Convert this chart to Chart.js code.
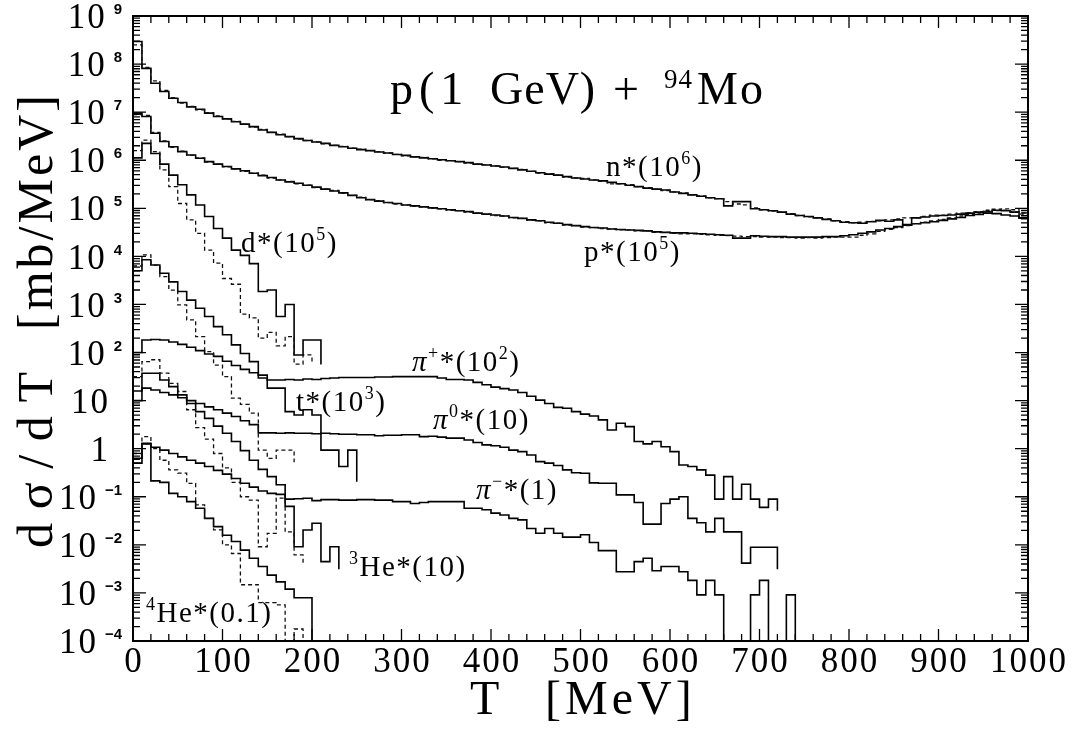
<!DOCTYPE html>
<html>
<head>
<meta charset="utf-8">
<title>p(1 GeV) + 94Mo</title>
<script src="https://cdn.jsdelivr.net/npm/chart.js@4.4.1/dist/chart.umd.min.js"></script>
<style>
  html, body { margin: 0; padding: 0; background: #fff; }
  #wrap { width: 1073px; height: 732px; }
</style>
</head>
<body>
<div id="wrap"><canvas id="c" width="1073" height="732"></canvas></div>
<script>
// Histogram bin width in MeV; every spectrum starts at T = 0.
const BIN = 10;

// log10 of dσ/dT [mb/MeV] (already multiplied by the factor in each label),
// one value per bin; the last entry is the level the closing edge drops to.
const nSolid = [
  8.47, 7.91, 7.60, 7.43, 7.29, 7.20, 7.11, 7.06, 6.98, 6.91,
  6.86, 6.80, 6.75, 6.70, 6.63, 6.58, 6.53, 6.49, 6.45, 6.41,
  6.38, 6.35, 6.31, 6.28, 6.25, 6.22, 6.20, 6.17, 6.15, 6.12,
  6.10, 6.07, 6.05, 6.03, 6.01, 5.99, 5.97, 5.95, 5.92, 5.90,
  5.88, 5.86, 5.83, 5.80, 5.77, 5.74, 5.71, 5.69, 5.66, 5.63,
  5.61, 5.59, 5.57, 5.54, 5.51, 5.48, 5.45, 5.42, 5.40, 5.38,
  5.34, 5.31, 5.28, 5.25, 5.22, 5.20, 5.05, 5.14, 5.14, 4.99,
  4.97, 4.95, 4.92, 4.88, 4.85, 4.83, 4.80, 4.77, 4.74, 4.71,
  4.70, 4.69, 4.72, 4.75, 4.73, 4.76, 4.65, 4.80, 4.82, 4.84,
  4.85, 4.86, 4.88, 4.90, 4.92, 4.93, 4.96, 4.95, 4.92, 4.80,
  4.80
];
const nDashed = [
  8.40, 7.93, 7.65, 7.45, 7.30, 7.19, 7.12, 7.05, 6.99, 6.92,
  6.86, 6.81, 6.75, 6.69, 6.64, 6.58, 6.54, 6.49, 6.44, 6.41,
  6.38, 6.34, 6.31, 6.29, 6.25, 6.23, 6.20, 6.18, 6.15, 6.12,
  6.09, 6.07, 6.06, 6.03, 6.00, 5.99, 5.97, 5.94, 5.92, 5.91,
  5.88, 5.85, 5.83, 5.81, 5.77, 5.73, 5.72, 5.69, 5.65, 5.63,
  5.62, 5.59, 5.56, 5.51, 5.51, 5.49, 5.45, 5.43, 5.40, 5.37,
  5.34, 5.32, 5.28, 5.26, 5.22, 5.20, 5.14, 5.09, 5.07, 5.01,
  4.97, 4.94, 4.92, 4.89, 4.85, 4.82, 4.80, 4.78, 4.74, 4.72,
  4.70, 4.71, 4.73, 4.74, 4.76, 4.78, 4.80, 4.80, 4.83, 4.86,
  4.86, 4.88, 4.90, 4.91, 4.93, 4.96, 4.98, 4.99, 4.97, 4.90,
  4.90
];
const pSolid = [
  6.98, 6.91, 6.56, 6.39, 6.28, 6.18, 6.11, 6.04, 5.97, 5.92,
  5.87, 5.82, 5.78, 5.73, 5.68, 5.64, 5.59, 5.55, 5.52, 5.48,
  5.44, 5.40, 5.36, 5.32, 5.27, 5.22, 5.18, 5.15, 5.12, 5.10,
  5.07, 5.05, 5.03, 5.01, 4.99, 4.97, 4.95, 4.93, 4.90, 4.88,
  4.86, 4.84, 4.81, 4.79, 4.76, 4.74, 4.71, 4.69, 4.66, 4.64,
  4.62, 4.60, 4.59, 4.57, 4.56, 4.55, 4.54, 4.53, 4.51, 4.50,
  4.49, 4.49, 4.48, 4.47, 4.46, 4.45, 4.44, 4.38, 4.38, 4.43,
  4.42, 4.41, 4.41, 4.40, 4.40, 4.40, 4.40, 4.41, 4.41, 4.43,
  4.45, 4.48, 4.51, 4.55, 4.58, 4.62, 4.66, 4.68, 4.70, 4.72,
  4.75, 4.78, 4.81, 4.85, 4.87, 4.90, 4.89, 4.86, 4.84, 4.80,
  4.80
];
const pDashed = [
  6.95, 6.93, 6.58, 6.40, 6.27, 6.19, 6.10, 6.05, 5.96, 5.92,
  5.86, 5.82, 5.77, 5.73, 5.69, 5.63, 5.59, 5.56, 5.51, 5.48,
  5.43, 5.40, 5.37, 5.31, 5.27, 5.23, 5.18, 5.16, 5.12, 5.09,
  5.07, 5.04, 5.03, 5.00, 4.99, 4.96, 4.95, 4.92, 4.90, 4.88,
  4.85, 4.84, 4.80, 4.79, 4.75, 4.74, 4.70, 4.69, 4.65, 4.64,
  4.61, 4.60, 4.58, 4.57, 4.55, 4.55, 4.53, 4.53, 4.50, 4.50,
  4.48, 4.47, 4.47, 4.46, 4.45, 4.44, 4.43, 4.42, 4.41, 4.41,
  4.40, 4.40, 4.39, 4.39, 4.38, 4.39, 4.38, 4.39, 4.40, 4.40,
  4.40, 4.44, 4.47, 4.52, 4.56, 4.60, 4.64, 4.68, 4.71, 4.74,
  4.77, 4.80, 4.84, 4.87, 4.90, 4.93, 4.95, 4.96, 4.93, 4.88,
  4.88
];
const dSolid = [
  6.05, 6.35, 6.14, 5.92, 5.69, 5.49, 5.28, 5.07, 4.83, 4.58,
  4.38, 4.13, 4.02, 3.85, 3.27, 3.30, 2.75, 3.00, 1.95, 2.26,
  2.26, 1.75
];
const dDashed = [
  6.20, 6.42, 6.18, 5.80, 5.45, 5.10, 4.76, 4.48, 4.13, 3.86,
  3.54, 3.42, 2.80, 2.72, 2.30, 2.42, 2.14, 2.33, 1.76, 1.95,
  1.77
];
const tSolid = [
  3.70, 3.93, 3.82, 3.65, 3.47, 3.27, 3.09, 2.92, 2.75, 2.54,
  2.37, 2.16, 1.98, 1.81, 1.53, 1.26, 1.26, 0.77, 0.70, 0.81,
  0.70, -0.03, -0.03, -0.37, -0.03, -0.69
];
const tDashed = [
  3.80, 4.03, 3.82, 3.58, 3.30, 2.99, 2.68, 2.33, 2.02, 1.74,
  1.50, 1.05, 0.92, 0.74, -0.03, -0.20, -0.03, -0.03, -0.28
];
const piPlus = [
  2.00, 2.26, 2.27, 2.26, 2.22, 2.17, 2.11, 2.04, 1.97, 1.92,
  1.82, 1.73, 1.65, 1.58, 1.47, 1.43, 1.43, 1.44, 1.43, 1.45,
  1.44, 1.46, 1.47, 1.48, 1.48, 1.48, 1.48, 1.49, 1.49, 1.50,
  1.50, 1.50, 1.50, 1.50, 1.47, 1.44, 1.44, 1.43, 1.38, 1.33,
  1.28, 1.25, 1.22, 1.17, 1.09, 1.01, 0.94, 0.86, 0.84, 0.77,
  0.72, 0.68, 0.60, 0.39, 0.53, 0.46, 0.15, 0.10, 0.15, 0.04,
  -0.06, -0.34, -0.37, -0.44, -0.55, -1.05, -0.58, -1.05, -0.74, -1.05,
  -1.22, -1.05, -1.29
];
const piZero = [
  1.00, 1.26, 1.22, 1.17, 1.12, 1.06, 1.00, 0.94, 0.87, 0.81,
  0.74, 0.67, 0.58, 0.50, 0.33, 0.33, 0.32, 0.33, 0.32, 0.32,
  0.31, 0.32, 0.31, 0.30, 0.30, 0.29, 0.29, 0.27, 0.28, 0.28,
  0.29, 0.29, 0.25, 0.26, 0.24, 0.22, 0.22, 0.18, 0.13, 0.08,
  0.06, 0.03, -0.03, -0.06, -0.13, -0.27, -0.30, -0.35, -0.44, -0.50,
  -0.51, -0.71, -0.72, -0.72, -0.96, -0.96, -1.12, -1.57, -1.57, -1.14,
  -1.05, -1.00, -1.45, -1.54, -1.73, -1.45, -1.73, -1.73, -2.38, -2.05,
  -2.05, -2.05, -2.51
];
// -9 marks an empty bin (far below the axis floor)
const piMinus = [
  -0.20, 0.11, 0.03, -0.03, -0.10, -0.17, -0.24, -0.30, -0.37, -0.45,
  -0.53, -0.62, -0.72, -0.80, -0.88, -0.93, -0.95, -1.05, -1.04, -1.03,
  -1.08, -1.06, -1.06, -1.07, -1.07, -1.06, -1.06, -1.07, -1.07, -1.10,
  -1.10, -1.14, -1.12, -1.10, -1.10, -1.10, -1.10, -1.24, -1.24, -1.27,
  -1.34, -1.38, -1.45, -1.48, -1.66, -1.76, -1.66, -1.76, -1.84, -1.84,
  -1.79, -1.95, -2.12, -2.12, -2.56, -2.56, -2.35, -2.28, -2.54, -2.45,
  -2.45, -2.56, -2.74, -3.04, -2.74, -3.04, -9, -9, -9, -3.04,
  -2.74, -9, -9, -3.04, -9
];
const he3Solid = [
  1.20, 1.57, 1.57, 1.43, 1.29, 1.12, 0.94, 0.77, 0.63, 0.47,
  0.32, 0.15, -0.04, -0.24, -0.43, -0.58, -0.75, -1.20, -2.04, -1.69,
  -1.55, -2.35, -2.04, -2.51
];
const he3Dashed = [
  1.50, 1.81, 1.85, 1.57, 1.36, 1.19, 0.81, 0.44, 0.20, -0.10,
  -0.40, -0.70, -1.00, -1.07, -2.04, -1.76, -1.03, -1.73, -2.21, -2.40
];
const he4Solid = [
  -0.30, 0.10, -0.67, -0.70, -0.93, -1.00, -1.10, -1.24, -1.45, -1.62,
  -1.80, -1.93, -2.11, -2.28, -2.45, -2.63, -2.77, -2.92, -3.10, -3.10,
  -9
];
const he4Dashed = [
  -0.10, 0.25, 0.00, -0.24, -0.44, -0.51, -0.72, -1.17, -1.45, -1.69,
  -2.00, -2.18, -2.83, -2.83, -3.20, -3.20, -3.25, -9, -3.75, -9
];

// Axis ticks
const xTickLabels = ['0', '100', '200', '300', '400', '500', '600', '700', '800', '900', '1000'];
const xMajorStep = 100, xMinorStep = 20;
const yDecades = [9, 8, 7, 6, 5, 4, 3, 2, 1, 0, -1, -2, -3, -4];

const solidSeries = [nSolid, pSolid, dSolid, tSolid, piPlus, piZero, piMinus, he3Solid, he4Solid];
const dashedSeries = [nDashed, pDashed, dDashed, tDashed, he3Dashed, he4Dashed];

function toPoints(logs) {
  return logs.map((v, i) => ({ x: i * BIN, y: Math.pow(10, v) }));
}

const datasets = [];
dashedSeries.forEach(s => datasets.push({
  data: toPoints(s), borderColor: '#111', borderWidth: 1.3, borderDash: [4, 3],
  stepped: 'before', pointRadius: 0, fill: false
}));
solidSeries.forEach(s => datasets.push({
  data: toPoints(s), borderColor: '#000', borderWidth: 1.6,
  stepped: 'before', pointRadius: 0, fill: false
}));

const SERIF = '"Liberation Serif", "DejaVu Serif", serif';

// draw a string character by character with extra spacing
function charsWidth(ctx, str) {
  let w = 0;
  for (const ch of str) w += ctx.measureText(ch).width;
  return w;
}
function drawChars(ctx, str, x, y, spacing) {
  for (const ch of str) {
    ctx.fillText(ch, x, y);
    x += ctx.measureText(ch).width + spacing;
  }
  return x;
}
// parts: [text, kind] with kind '' (upright), 'i' (italic) or 's' (superscript)
function drawRich(ctx, parts, x, y, spacing, size) {
  const fonts = {
    '': size + 'px ' + SERIF,
    'i': 'italic ' + size + 'px ' + SERIF,
    's': Math.round(size * 0.63) + 'px ' + SERIF
  };
  let cx = x;
  parts.forEach(([t, k]) => {
    ctx.font = fonts[k || ''];
    const dy = k === 's' ? -size * 0.42 : 0;
    cx = drawChars(ctx, t, cx, y + dy, spacing);
  });
}

// curve labels: left edge and baseline in pixels
const curveLabels = [
  { parts: [['n*(10'], ['6', 's'], [')']], x: 606, y: 176 },
  { parts: [['p*(10'], ['5', 's'], [')']], x: 584, y: 261 },
  { parts: [['d*(10'], ['5', 's'], [')']], x: 241, y: 252 },
  { parts: [['π', 'i'], ['+', 's'], ['*(10'], ['2', 's'], [')']], x: 412, y: 371 },
  { parts: [['t*(10'], ['3', 's'], [')']], x: 296, y: 411 },
  { parts: [['π', 'i'], ['0', 's'], ['*(10)']], x: 433, y: 429 },
  { parts: [['π', 'i'], ['−', 's'], ['*(1)']], x: 476, y: 499 },
  { parts: [['3', 's'], ['He*(10)']], x: 349, y: 576 },
  { parts: [['4', 's'], ['He*(0.1)']], x: 146, y: 622 }
];

const framePlugin = {
  id: 'frameAndText',
  afterDatasetsDraw(chart) {
    const { ctx, chartArea: a, scales: { x, y } } = chart;
    ctx.save();
    ctx.strokeStyle = '#000';
    ctx.fillStyle = '#000';

    // ticks pointing into the plot on all four sides
    ctx.lineWidth = 1.3;
    ctx.beginPath();
    for (let t = x.min; t <= x.max; t += xMinorStep) {
      const px = x.getPixelForValue(t);
      const len = t % xMajorStep === 0 ? 12 : 7;
      ctx.moveTo(px, a.bottom); ctx.lineTo(px, a.bottom - len);
      ctx.moveTo(px, a.top); ctx.lineTo(px, a.top + len);
    }
    for (let e = -4; e <= 9; e++) {
      for (let m = 1; m <= 9; m++) {
        if (e === 9 && m > 1) break;
        const py = y.getPixelForValue(m * Math.pow(10, e));
        const len = m === 1 ? 13 : 7;
        ctx.moveTo(a.left, py); ctx.lineTo(a.left + len, py);
        ctx.moveTo(a.right, py); ctx.lineTo(a.right - len, py);
      }
    }
    ctx.stroke();

    // frame
    ctx.lineWidth = 2;
    ctx.strokeRect(a.left, a.top, a.right - a.left, a.bottom - a.top);

    // x tick labels
    ctx.textBaseline = 'middle';
    ctx.textAlign = 'left';
    ctx.font = '35px ' + SERIF;
    xTickLabels.forEach((lab, i) => {
      const px = x.getPixelForValue(i * xMajorStep);
      const w = charsWidth(ctx, lab) + 2 * (lab.length - 1);
      drawChars(ctx, lab, px - w / 2, a.bottom + 22, 2);
    });

    // y tick labels: 10 with the exponent as superscript
    yDecades.forEach(e => {
      const py = y.getPixelForValue(Math.pow(10, e));
      if (e === 0 || e === 1) {
        ctx.font = '35px ' + SERIF;
        const lab = e === 0 ? '1' : '10';
        const w = charsWidth(ctx, lab) + 2 * (lab.length - 1);
        drawChars(ctx, lab, a.left - 25 - w, py + 3, 2);
      } else {
        ctx.font = 'bold 15px "Liberation Sans", Arial, sans-serif';
        const es = e < 0 ? '−' + (-e) : String(e);
        const ew = charsWidth(ctx, es);
        drawChars(ctx, es, a.left - 11 - ew, py - 6, 0);
        ctx.font = '35px ' + SERIF;
        const w = charsWidth(ctx, '10') + 2;
        drawChars(ctx, '10', a.left - 11 - ew - 9 - w, py + 3, 2);
      }
    });

    // curve labels
    ctx.textBaseline = 'alphabetic';
    curveLabels.forEach(l => drawRich(ctx, l.parts, l.x, l.y, 1.5, 29));

    // reaction title
    drawRich(ctx, [['p(1']], 390, 104, 6, 46);
    drawRich(ctx, [['GeV)']], 490, 104, 1, 46);
    drawRich(ctx, [['+']], 613, 104, 0, 46);
    drawRich(ctx, [['94']], 664, 88, 1, 27);
    drawRich(ctx, [['Mo']], 697, 104, 2, 46);

    // axis titles
    ctx.font = '48px ' + SERIF;
    ctx.fillText('T', 470, 714);
    drawChars(ctx, '[MeV]', 545, 714, 4);

    ctx.translate(52, 548);
    ctx.rotate(-Math.PI / 2);
    ctx.font = '50px ' + SERIF;
    const yt1 = 'dσ/dT', yt2 = '[mb/MeV]';
    drawChars(ctx, yt1, 0, 0, Math.max(0, (176 - charsWidth(ctx, yt1)) / 4));
    drawChars(ctx, yt2, 218, 0, Math.max(0, (235 - charsWidth(ctx, yt2)) / 7));
    ctx.restore();
  }
};

new Chart(document.getElementById('c'), {
  type: 'line',
  data: { datasets },
  options: {
    responsive: false,
    animation: false,
    devicePixelRatio: 1,
    layout: { padding: { left: 133, right: 45, top: 16, bottom: 91 } },
    scales: {
      x: { type: 'linear', min: 0, max: 1000, display: false },
      y: { type: 'logarithmic', min: 1e-4, max: 1e9, display: false }
    },
    plugins: { legend: { display: false }, tooltip: { enabled: false } },
    elements: { point: { radius: 0 }, line: { tension: 0 } }
  },
  plugins: [framePlugin]
});
</script>
</body>
</html>
